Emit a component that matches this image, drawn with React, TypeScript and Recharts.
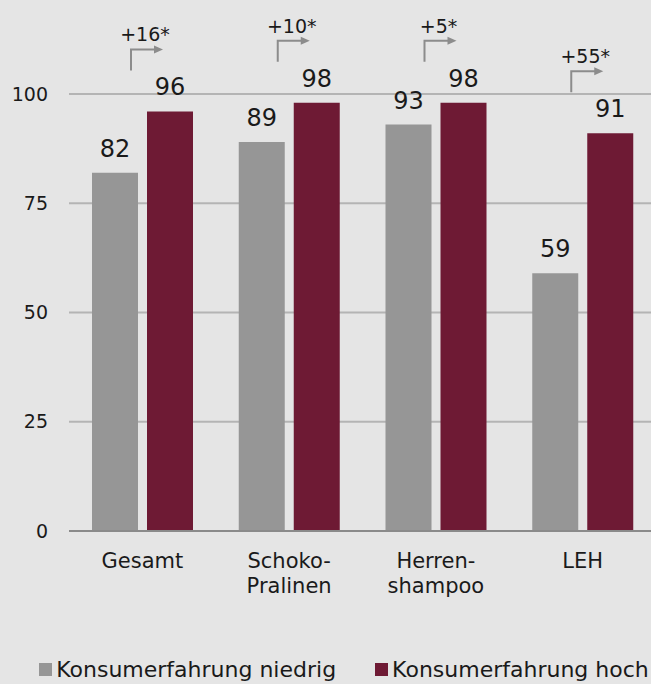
import React from 'react'
import { BarChart, Bar, XAxis, YAxis, CartesianGrid, Legend, LabelList } from 'recharts'

const categories = ['Gesamt', 'Schoko-\nPralinen', 'Herren-\nshampoo', 'LEH']
const niedrig = [82, 89, 93, 59]
const hoch = [96, 98, 98, 91]
const diffs = ['+16*', '+10*', '+5*', '+55*']
const yTicks = [0, 25, 50, 75, 100]

const GRAY = '#969696'
const MAROON = '#6e1a34'
const FONT = 'DejaVu Sans, sans-serif'

const data = categories.map((name, i) => ({
	name,
	niedrig: niedrig[i],
	hoch: hoch[i],
	diff: diffs[i],
}))

// mehrzeilige Kategorienamen (Trennung bei \n)
const CategoryTick = (props: any) => {
	const { x, y, payload } = props
	const lines = String(payload.value).split('\n')
	return (
		<text x={x} y={y} textAnchor="middle" fill="#1a1a1a" fontSize={21} fontFamily={FONT}>
			{lines.map((l, i) => (
				<tspan key={i} x={x} dy={i === 0 ? 29 : 25}>{l}</tspan>
			))}
		</text>
	)
}

// Pfeil mit Differenz über dem Balkenpaar
const DiffLabel = (props: any) => {
	const { x, y, value } = props
	const vx = x - 16
	const base = y - 41
	const top = base - 21
	return (
		<g>
			<polyline points={`${vx},${base} ${vx},${top} ${vx + 24},${top}`} stroke="#8c8c8c" strokeWidth={2} fill="none" />
			<polygon points={`${vx + 23},${top - 4} ${vx + 32},${top} ${vx + 23},${top + 4}`} fill="#8c8c8c" />
			<text x={vx + 14} y={top - 8} textAnchor="middle" fill="#1a1a1a" fontSize={19} fontFamily={FONT}>{value}</text>
		</g>
	)
}

const LegendContent = () => (
	<div style={{ display: 'flex', justifyContent: 'center', gap: 39, fontFamily: FONT, fontSize: 22, color: '#1a1a1a', paddingLeft: 32 }}>
		{[['Konsumerfahrung niedrig', GRAY], ['Konsumerfahrung hoch', MAROON]].map(([label, c]) => (
			<div key={label} style={{ display: 'flex', alignItems: 'center', gap: 4 }}>
				<span style={{ display: 'inline-block', width: 13, height: 13, background: c }} />
				<span>{label}</span>
			</div>
		))}
	</div>
)

export default function App() {
	return (
		<div style={{ position: 'absolute', left: 0, top: 0, width: 651, height: 684, overflow: 'hidden', background: '#e5e5e5' }}>
			<BarChart
				width={656}
				height={684}
				data={data}
				margin={{ top: 94, right: 0, left: 0, bottom: 2 }}
				barGap={9}
				barSize={46}
			>
				<CartesianGrid vertical={false} stroke="#b4b4b4" strokeWidth={2} />
				<XAxis
					dataKey="name"
					tick={<CategoryTick />}
					tickLine={false}
					axisLine={{ stroke: '#8a8a8a', strokeWidth: 2 }}
					height={126}
					interval={0}
				/>
				<YAxis
					domain={[0, 100]}
					ticks={yTicks}
					width={69}
					axisLine={false}
					tickLine={false}
					tickSize={0}
					tickMargin={21}
					tick={{ fill: '#1a1a1a', fontSize: 19, fontFamily: FONT }}
				/>
				<Legend verticalAlign="bottom" content={<LegendContent />} />
				<Bar dataKey="niedrig" fill={GRAY} isAnimationActive={false}>
					<LabelList dataKey="niedrig" position="top" offset={16} fill="#1a1a1a" fontSize={24} fontFamily={FONT} />
				</Bar>
				<Bar dataKey="hoch" fill={MAROON} isAnimationActive={false}>
					<LabelList dataKey="hoch" position="top" offset={16} fill="#1a1a1a" fontSize={24} fontFamily={FONT} />
					<LabelList dataKey="diff" content={<DiffLabel />} />
				</Bar>
			</BarChart>
		</div>
	)
}
